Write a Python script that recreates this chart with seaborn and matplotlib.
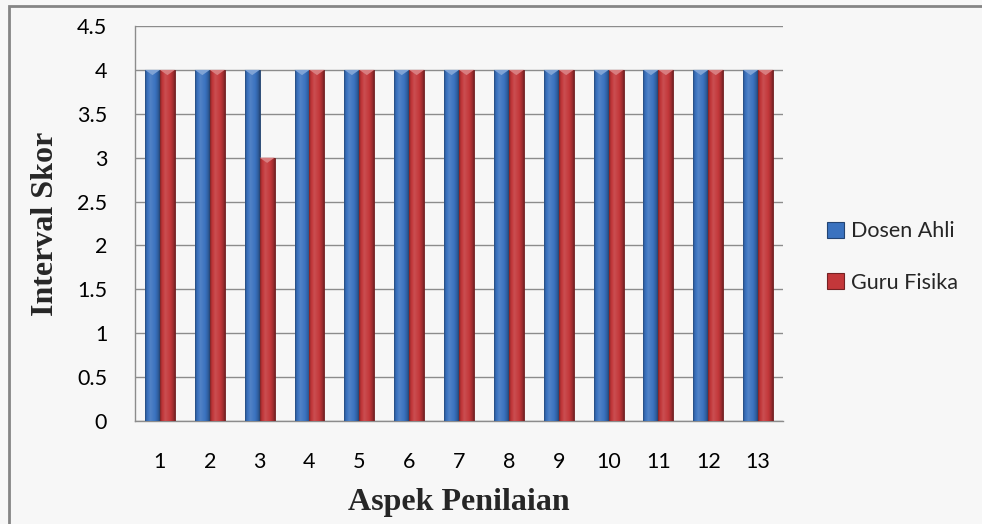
import numpy as np
import pandas as pd
import matplotlib
matplotlib.use("Agg")
import matplotlib.pyplot as plt
import seaborn as sns
from matplotlib.patches import Rectangle, Polygon, Patch
from matplotlib.colors import to_rgb

# Scores per assessment aspect for each validator group
aspek = [str(i) for i in range(1, 14)]
dosen_ahli = [4, 4, 4, 4, 4, 4, 4, 4, 4, 4, 4, 4, 4]
guru_fisika = [4, 4, 3, 4, 4, 4, 4, 4, 4, 4, 4, 4, 4]
series_names = ["Dosen Ahli", "Guru Fisika"]
y_ticks = [0, 0.5, 1, 1.5, 2, 2.5, 3, 3.5, 4, 4.5]

df = pd.DataFrame({
    "Aspek": aspek * 2,
    "Skor": dosen_ahli + guru_fisika,
    "Validator": [series_names[0]] * len(aspek) + [series_names[1]] * len(aspek),
})

sns.set_theme(style="white")
plt.rcParams["font.family"] = ["Lato", "DejaVu Sans"]

bg = "#f7f7f7"
line_grey = "#8c8c8c"
colors = {"Dosen Ahli": "#3a72bf", "Guru Fisika": "#c3373a"}
tick_size = 15.5

fig = plt.figure(figsize=(9.82, 5.24), dpi=100, facecolor=bg)
ax = fig.add_axes([0.1375, 0.1966, 0.6599, 0.7538])
ax.set_facecolor(bg)

sns.barplot(data=df, x="Aspek", y="Skor", hue="Validator", palette=colors,
            width=0.6, gap=0, saturation=1, legend=False, ax=ax, zorder=3)

ax.set_xlim(-0.5, len(aspek) - 0.5)
ax.set_ylim(0, 4.5)
ax.set_yticks(y_ticks)
ax.set_yticklabels([f"{t:g}" for t in y_ticks])
ax.yaxis.grid(True, color=line_grey, linewidth=1.0, zorder=0)
ax.set_axisbelow(True)
for side in ["top", "right"]:
    ax.spines[side].set_visible(False)
for side in ["left", "bottom"]:
    ax.spines[side].set_color(line_grey)
    ax.spines[side].set_linewidth(1.0)
ax.tick_params(axis="both", length=0, labelsize=tick_size, colors="black")
ax.tick_params(axis="y", pad=20)
ax.tick_params(axis="x", pad=22)

ax.set_xlabel("Aspek Penilaian", family="Liberation Serif", fontweight="bold",
              fontsize=23, labelpad=12)
ax.set_ylabel("Interval Skor", family="Liberation Serif", fontweight="bold",
              fontsize=23, labelpad=12)


def shade(rgb, f):
    rgb = np.array(rgb)
    if f >= 0:
        return rgb + (1 - rgb) * f
    return rgb * (1 + f)


def bar_gradient(base):
    rgb = to_rgb(base)
    xs = np.linspace(0, 1, 64)
    prof = np.interp(xs, [0, 0.12, 0.35, 0.7, 0.9, 1.0],
                     [-0.35, -0.05, 0.12, 0.0, -0.2, -0.4])
    return np.array([[shade(rgb, p) for p in prof]])


# Bevelled look on each bar: horizontal gradient plus a light tip at the top
for patch in list(ax.patches):
    h = patch.get_height()
    if h <= 0:
        continue
    x0 = patch.get_x()
    w = patch.get_width()
    base = patch.get_facecolor()[:3]
    im = ax.imshow(bar_gradient(base), extent=[x0, x0 + w, 0, h],
                   aspect="auto", zorder=3.5, interpolation="bilinear")
    im.set_clip_path(patch)
    patch.set_edgecolor(shade(base, -0.45))
    patch.set_linewidth(0.6)
    tip = Polygon([[x0, h], [x0 + w, h], [x0 + w / 2, h - 0.06]],
                  closed=True, facecolor=shade(base, 0.35), edgecolor="none",
                  zorder=3.6)
    ax.add_patch(tip)
ax.set_xlim(-0.5, len(aspek) - 0.5)
ax.set_ylim(0, 4.5)

handles = [Patch(facecolor=colors[n], edgecolor=shade(to_rgb(colors[n]), -0.4),
                 linewidth=0.8, label=n) for n in series_names]
fig.legend(handles=handles, loc="center left",
           bbox_to_anchor=(827 / 982, 1 - 257 / 524),
           frameon=False, fontsize=tick_size, handlelength=0.8,
           handleheight=0.8, handletextpad=0.3, labelspacing=1.45,
           borderpad=0, borderaxespad=0)

# Outer chart border
fig.patches.append(Rectangle((9 / 982, -0.05), 1.2, 1 - 6 / 524 + 0.05,
                             transform=fig.transFigure, fill=False,
                             edgecolor="#858585", linewidth=2.0))

fig.savefig("out.png", dpi=100, facecolor=bg)
